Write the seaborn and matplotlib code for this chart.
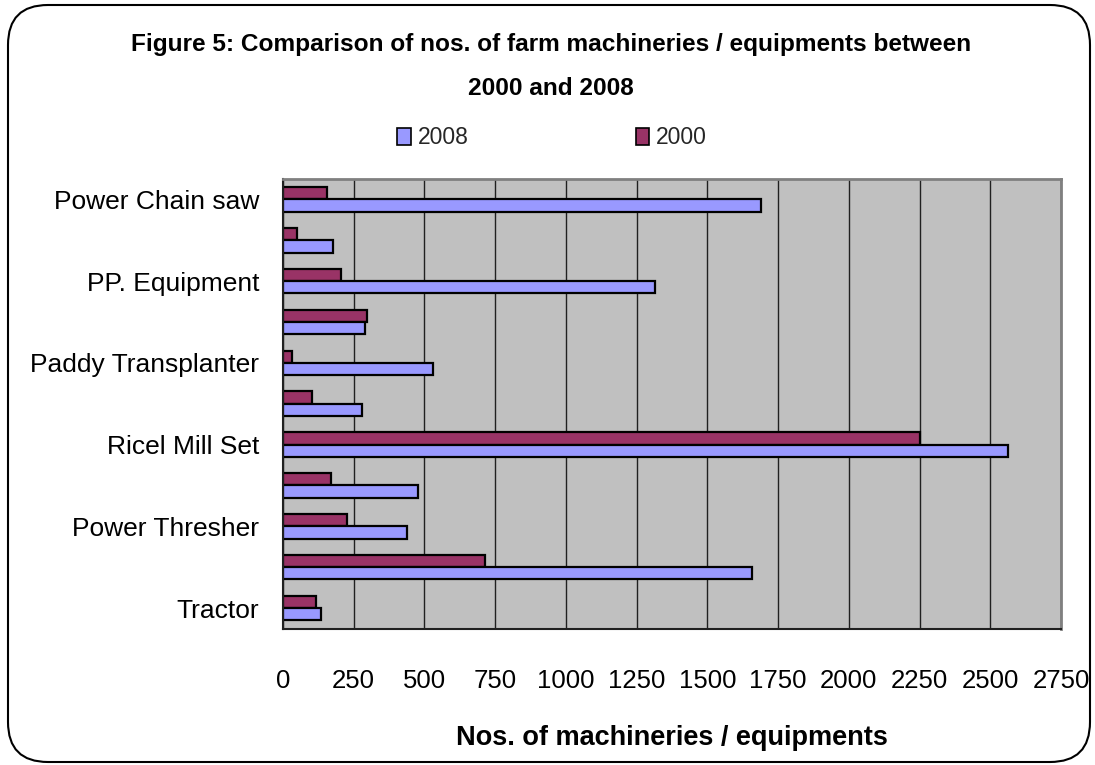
import numpy as np
import pandas as pd
import matplotlib
matplotlib.use('Agg')
import matplotlib.pyplot as plt
import seaborn as sns
from matplotlib.patches import Patch, FancyBboxPatch

# data (top to bottom)
items = ['Power Chain saw', 'item_10', 'PP. Equipment', 'item_8', 'Paddy Transplanter',
         'item_6', 'Ricel Mill Set', 'item_4', 'Power Thresher', 'item_2', 'Tractor']
tick_labels = ['Power Chain saw', '', 'PP. Equipment', '', 'Paddy Transplanter',
               '', 'Ricel Mill Set', '', 'Power Thresher', '', 'Tractor']
vals_2008 = [1690, 175, 1315, 290, 530, 278, 2563, 478, 440, 1659, 136]
vals_2000 = [155, 50, 206, 298, 32, 102, 2250, 169, 226, 713, 116]
years = ['2008', '2000']
colors = {'2008': '#9999FF', '2000': '#993366'}
xticks = list(range(0, 2751, 250))

df = pd.DataFrame({
    'item': items * 2,
    'count': vals_2008 + vals_2000,
    'year': ['2008'] * len(items) + ['2000'] * len(items),
})

sns.set_style('white')
plt.rcParams['font.family'] = ['Liberation Sans', 'DejaVu Sans']

fig = plt.figure(figsize=(10.95, 7.65), dpi=100)
ax = fig.add_axes([283 / 1095, 1 - 628.5 / 765, (1061 - 283) / 1095, (628.5 - 179) / 765])

sns.barplot(data=df, x='count', y='item', hue='year', hue_order=['2000', '2008'],
            order=items, palette=colors, orient='h', width=0.6,
            edgecolor='black', linewidth=1.6, saturation=1, legend=False, ax=ax)

ax.set_facecolor('#C0C0C0')
ax.set_xlim(0, 2750)
ax.set_ylim(len(items) - 0.5, -0.5)
ax.set_xticks(xticks)
ax.set_xticklabels([str(t) for t in xticks], fontsize=18.5, color='black')
ax.tick_params(axis='x', length=8.5, width=1, color='#404040', pad=21, direction='out')
ax.grid(axis='x', color='#202020', linewidth=1)
ax.set_axisbelow(True)

ax.set_yticks(np.arange(-0.5, len(items), 1))
ax.set_yticklabels([])
ax.set_yticks(np.arange(len(items)), minor=True)
ax.set_yticklabels(tick_labels, minor=True, fontsize=19, color='black')
ax.tick_params(axis='y', which='major', length=6, width=1, color='#404040', direction='out')
ax.tick_params(axis='y', which='minor', length=0, pad=17)

ax.set_xlabel('Nos. of machineries / equipments', fontsize=19.5, fontweight='bold',
              labelpad=23, color='black')
ax.set_ylabel('')

for s in ['left', 'bottom']:
    ax.spines[s].set_color('#202020')
    ax.spines[s].set_linewidth(1.5)
for s in ['top', 'right']:
    ax.spines[s].set_color('#808080')
    ax.spines[s].set_linewidth(2)

fig.text(0.503, 1 - 33 / 765,
         'Figure 5: Comparison of nos. of farm machineries / equipments between\n2000 and 2008',
         ha='center', va='top', fontsize=17.6, fontweight='bold', linespacing=2.15,
         color='black')

handles = [Patch(facecolor=colors[y], edgecolor='black', linewidth=1.2) for y in years]
fig.legend(handles, years, loc='center', bbox_to_anchor=(552 / 1095, 1 - 138 / 765),
           ncol=2, frameon=False, fontsize=16.5, handlelength=0.6, handleheight=0.75,
           handletextpad=0.3, columnspacing=7.3)

# rounded outer border
border = FancyBboxPatch((0.08, 0.03), 10.82, 7.57, boxstyle='round,pad=0,rounding_size=0.4',
                        transform=fig.dpi_scale_trans, facecolor='none',
                        edgecolor='black', linewidth=1.5)
fig.patches.append(border)

fig.savefig('out.png', dpi=100)
